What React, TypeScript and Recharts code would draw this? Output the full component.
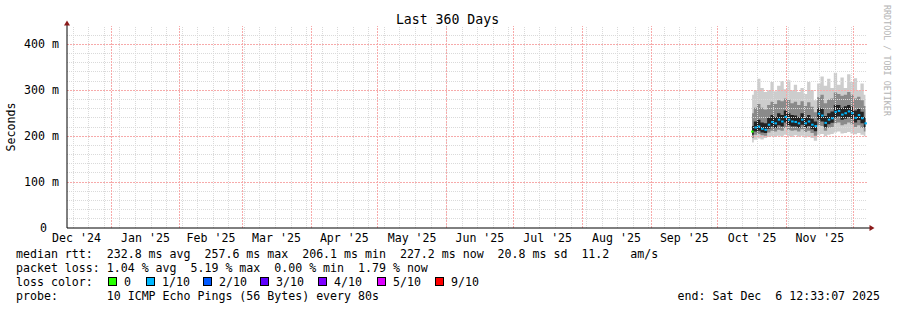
import React from 'react';
import { ComposedChart, Area, Line, XAxis, YAxis, ReferenceLine } from 'recharts';

const MONO = '"DejaVu Sans Mono", monospace';

// days counted from Jan 1 2025
const MONTH_LABELS = ["Dec '24", "Jan '25", "Feb '25", "Mar '25", "Apr '25", "May '25", "Jun '25", "Jul '25", "Aug '25", "Sep '25", "Oct '25", "Nov '25"];
const MONTH_LABEL_DAYS = [-15.5, 15.5, 45, 74.5, 105, 135.5, 166, 196.5, 227.5, 258, 288.5, 319];
const MONTH_START_DAYS = [0, 31, 59, 90, 120, 151, 181, 212, 243, 273, 304, 334];
const WEEK_DAYS = [-17, -10, -3, 4, 11, 18, 25, 32, 39, 46, 53, 60, 67, 74, 81, 88, 95, 102, 109, 116, 123, 130, 137, 144, 151, 158, 165, 172, 179, 186, 193, 200, 207, 214, 221, 228, 235, 242, 249, 256, 263, 270, 277, 284, 291, 298, 305, 312, 319, 326, 333];
const Y_TICKS = [0, 100, 200, 300, 400];
const Y_MINOR = [20, 40, 60, 80, 120, 140, 160, 180, 220, 240, 260, 280, 320, 340, 360, 380, 420];

// smoke samples (ms)
const days = [288.5, 290, 291.5, 293, 294.5, 296, 297.5, 299, 300.5, 302, 303.5, 305, 306.5, 308, 309.5, 311, 312.5, 314, 315.5, 317, 318.5, 320, 321.5, 323, 324.5, 326, 327.5, 329, 330.5, 332, 333.5, 335, 336.5, 338, 339.5];
const medV = [210, 219, 221, 216, 214, 225, 231, 228, 236, 232, 242, 236, 232, 231, 228, 236, 228, 232, 225, 222, 249, 245, 229, 236, 239, 253, 255, 247, 250, 254, 250, 240, 246, 239, 228];
const maxV = [290, 300, 325, 305, 296, 300, 318, 298, 310, 320, 302, 322, 300, 312, 296, 305, 292, 318, 300, 278, 315, 330, 310, 325, 305, 338, 312, 328, 305, 335, 318, 326, 300, 315, 290];
const minV = [186, 192, 195, 193, 196, 198, 200, 198, 201, 199, 203, 200, 198, 202, 199, 201, 197, 199, 196, 190, 203, 205, 200, 203, 205, 208, 210, 206, 207, 209, 206, 204, 207, 203, 200];
const hiV = [250, 262, 270, 262, 258, 268, 275, 270, 278, 276, 282, 280, 272, 275, 268, 276, 266, 274, 264, 252, 285, 290, 272, 280, 282, 295, 292, 288, 290, 296, 290, 282, 286, 278, 266];
const loV = [196, 203, 205, 202, 201, 208, 212, 210, 214, 212, 218, 214, 212, 213, 210, 215, 209, 212, 207, 201, 224, 222, 212, 218, 220, 228, 230, 224, 226, 230, 226, 220, 224, 218, 210];
const coreHi = [222, 232, 236, 230, 228, 240, 246, 242, 250, 246, 256, 250, 246, 245, 242, 250, 241, 246, 238, 232, 262, 260, 244, 250, 254, 268, 268, 262, 265, 268, 264, 256, 260, 253, 242];
const coreLo = [203, 210, 212, 208, 207, 216, 221, 218, 224, 221, 230, 224, 221, 221, 218, 225, 218, 222, 215, 211, 236, 232, 219, 226, 229, 240, 243, 236, 238, 242, 238, 230, 235, 228, 219];
const lossV = [0, 1, 1, 1, 1, 1, 1, 1, 1, 1, 1, 1, 1, 1, 1, 1, 1, 1, 1, 1, 1, 1, 1, 1, 1, 1, 1, 1, 1, 1, 1, 1, 1, 1, 1];

const LOSS_LABELS = ['0', '1/10', '2/10', '3/10', '4/10', '5/10', '9/10'];
const LOSS_COLORS = ['#26ff00', '#00b8ff', '#0059ff', '#5e00ff', '#7e00ff', '#dd00ff', '#ff0000'];
const LOSS_BOX_X = [108, 146, 203, 260, 318, 377, 435];

const data = days.map((d, i) => ({
  day: d,
  outer: [minV[i], maxV[i]],
  mid: [loV[i], hiV[i]],
  core: [coreLo[i], coreHi[i]],
  med: medV[i],
  loss: lossV[i],
}));

const YTick = (props: any) => {
  const { x, y, payload } = props;
  const v = payload.value;
  return (
    <text x={v === 0 ? x - 12 : x} y={y} dy={4} textAnchor="end" fontFamily={MONO} fontSize={11.6} fill="#000">
      {v === 0 ? '0' : `${v} m`}
    </text>
  );
};

const XTick = (props: any) => {
  const { x, y, payload, index } = props;
  return (
    <text x={x} y={y} dy={14} textAnchor="middle" fontFamily={MONO} fontSize={11.6} fill="#000">
      {MONTH_LABELS[index] ?? payload.value}
    </text>
  );
};

const MedianDot = (props: any) => {
  const { cx, cy, payload } = props;
  if (cx == null || cy == null) return null;
  return <rect x={cx - 1} y={cy - 1} width={2.5} height={2} fill={LOSS_COLORS[payload.loss]} />;
};

// grid line drawn as explicit svg line
const GridLine = (color: string, dash: string) => (props: any) => {
  const { x1, y1, x2, y2 } = props;
  return <line x1={x1} y1={y1} x2={x2} y2={y2} stroke={color} strokeWidth={1} strokeDasharray={dash} shapeRendering="crispEdges" />;
};

const textStyle: React.CSSProperties = { whiteSpace: 'pre' };
const grayLine = GridLine('#dadada', '1 1');
const redLine = GridLine('#f7aaaa', '2 1');

export default function App() {
  return (
    <div style={{ position: 'absolute', left: 0, top: 0, width: 897, height: 310, background: '#fff' }}>
      <ComposedChart width={897} height={310} data={data} margin={{ top: 26, right: 30, bottom: 62, left: 0 }}>
        <XAxis
          dataKey="day"
          type="number"
          domain={[-19.8, 340.2]}
          allowDataOverflow
          ticks={MONTH_LABEL_DAYS}
          interval={0}
          tickLine={false}
          tickSize={0}
          tickMargin={0}
          height={20}
          axisLine={{ stroke: '#000' }}
          tick={<XTick />}
        />
        <YAxis
          type="number"
          domain={[0, 440]}
          allowDataOverflow
          ticks={Y_TICKS}
          interval={0}
          tickLine={false}
          tickSize={0}
          tickMargin={8}
          width={67}
          axisLine={{ stroke: '#000' }}
          tick={<YTick />}
        />
        <Area type="step" dataKey="outer" stroke="none" fill="#cdcdcd" fillOpacity={1} isAnimationActive={false} activeDot={false} />
        <Area type="step" dataKey="mid" stroke="none" fill="#8a8a8a" fillOpacity={1} isAnimationActive={false} activeDot={false} />
        <Area type="step" dataKey="core" stroke="none" fill="#232323" fillOpacity={1} isAnimationActive={false} activeDot={false} />
        <Line type="step" dataKey="med" stroke="none" dot={<MedianDot />} activeDot={false} isAnimationActive={false} />
        {Y_MINOR.map(v => (
          <ReferenceLine key={'hy' + v} y={v} shape={grayLine} />
        ))}
        {WEEK_DAYS.map(d => (
          <ReferenceLine key={'wx' + d} x={d} shape={grayLine} />
        ))}
        {Y_TICKS.filter(v => v > 0).map(v => (
          <ReferenceLine key={'my' + v} y={v} shape={redLine} />
        ))}
        {MONTH_START_DAYS.map(d => (
          <ReferenceLine key={'mx' + d} x={d} shape={redLine} />
        ))}
      </ComposedChart>
      <svg width={897} height={310} style={{ position: 'absolute', left: 0, top: 0, pointerEvents: 'none' }}>
        <text x={447.5} y={24} textAnchor="middle" fontFamily={MONO} fontSize={13.2} fill="#000">Last 360 Days</text>
        <text x={0} y={0} transform="translate(15,127) rotate(-90)" textAnchor="middle" fontFamily={MONO} fontSize={11.6} fill="#000">Seconds</text>
        <text x={0} y={0} transform="translate(884,5) rotate(90)" fontFamily={MONO} fontSize={8.4} fill="#b4b4b4">RRDTOOL / TOBI OETIKER</text>
        <line x1={67} y1={25} x2={67} y2={26} stroke="#000" />
        <polygon points="64,25.5 70,25.5 67,20.5" fill="#8b1a1a" />
        <line x1={867} y1={228} x2={870} y2={228} stroke="#000" />
        <polygon points="869.5,225 869.5,231 874.5,228" fill="#8b1a1a" />
        <g fontFamily={MONO} fontSize={11.6} fill="#000" style={textStyle}>
          <text x={16} y={258} xmlSpace="preserve" style={textStyle}>median rtt:  232.8 ms avg  257.6 ms max  206.1 ms min  227.2 ms now  20.8 ms sd  11.2   am/s</text>
          <text x={16} y={272} xmlSpace="preserve" style={textStyle}>packet loss: 1.04 % avg  5.19 % max  0.00 % min  1.79 % now</text>
          <text x={16} y={286} xmlSpace="preserve" style={textStyle}>loss color:</text>
          {LOSS_LABELS.map((l, i) => (
            <g key={l}>
              <rect x={LOSS_BOX_X[i] + 0.5} y={277.5} width={8} height={8} fill={LOSS_COLORS[i]} stroke="#000" />
              <text x={LOSS_BOX_X[i] + 16} y={286}>{l}</text>
            </g>
          ))}
          <text x={16} y={300} xmlSpace="preserve" style={textStyle}>probe:       10 ICMP Echo Pings (56 Bytes) every 80s</text>
          <text x={880} y={300} textAnchor="end" xmlSpace="preserve" style={textStyle}>end: Sat Dec  6 12:33:07 2025</text>
        </g>
      </svg>
    </div>
  );
}
